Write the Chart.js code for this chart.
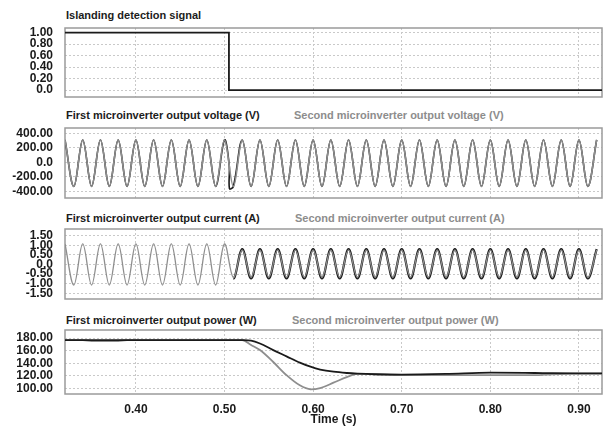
<!DOCTYPE html>
<html>
<head>
<meta charset="utf-8">
<script src="https://cdn.jsdelivr.net/npm/chart.js@4.4.0/dist/chart.umd.min.js"></script>
<style>
  html, body { margin: 0; padding: 0; background: #fff; }
  #wrap { position: relative; width: 612px; height: 428px; overflow: hidden;
          font-family: "Liberation Sans", Arial, sans-serif; }
  canvas { position: absolute; left: 0; }
  .ttl { position: absolute; font-size: 11px; font-weight: bold; color: #1c1c1c;
         white-space: nowrap; line-height: 11px; }
  .ttl.sec { color: #8d8d8d; }
</style>
</head>
<body>
<div id="wrap">
  <div class="ttl" style="left:66px;top:10px">Islanding detection signal</div>
  <div class="ttl" style="left:66px;top:110px">First microinverter output voltage (V)</div>
  <div class="ttl sec" style="left:294px;top:110px">Second microinverter output voltage (V)</div>
  <div class="ttl" style="left:66px;top:213px">First microinverter output current (A)</div>
  <div class="ttl sec" style="left:295px;top:213px">Second microinverter output current (A)</div>
  <div class="ttl" style="left:66px;top:315px">First microinverter output power (W)</div>
  <div class="ttl sec" style="left:292px;top:315px">Second microinverter output power (W)</div>

  <canvas id="sigChart" width="612" height="77" style="top:24px"></canvas>
  <canvas id="voltChart" width="612" height="78" style="top:124px"></canvas>
  <canvas id="curChart" width="612" height="78" style="top:225px"></canvas>
  <canvas id="powChart" width="612" height="102" style="top:326px"></canvas>
</div>
<script>
// islanding detection signal
const tSig = [0.32, 0.505, 0.505, 0.926];
const sig = [1, 1, 0, 0];

// sine waves sampled at their peaks and troughs (one every 10 ms)
const tWave = [0.32, 0.33, 0.34, 0.35, 0.36, 0.37, 0.38, 0.39, 0.40, 0.41,
  0.42, 0.43, 0.44, 0.45, 0.46, 0.47, 0.48, 0.49, 0.50, 0.51,
  0.52, 0.53, 0.54, 0.55, 0.56, 0.57, 0.58, 0.59, 0.60, 0.61,
  0.62, 0.63, 0.64, 0.65, 0.66, 0.67, 0.68, 0.69, 0.70, 0.71,
  0.72, 0.73, 0.74, 0.75, 0.76, 0.77, 0.78, 0.79, 0.80, 0.81,
  0.82, 0.83, 0.84, 0.85, 0.86, 0.87, 0.88, 0.89, 0.90, 0.91, 0.92];

const volt2 = [308, -332, 308, -332, 308, -332, 308, -332, 308, -332,
  308, -332, 308, -332, 308, -332, 308, -332, 308, -332,
  308, -332, 308, -332, 308, -332, 308, -332, 308, -332,
  308, -332, 308, -332, 308, -332, 308, -332, 308, -332,
  308, -332, 308, -332, 308, -332, 308, -332, 308, -332,
  308, -332, 308, -332, 308, -332, 308, -332, 308, -332, 308];

// first inverter voltage: same wave plus the switching spike
const tVolt1 = [0.32, 0.33, 0.34, 0.35, 0.36, 0.37, 0.38, 0.39, 0.40, 0.41,
  0.42, 0.43, 0.44, 0.45, 0.46, 0.47, 0.48, 0.49, 0.50, 0.5053, 0.5056, 0.51,
  0.52, 0.53, 0.54, 0.55, 0.56, 0.57, 0.58, 0.59, 0.60, 0.61,
  0.62, 0.63, 0.64, 0.65, 0.66, 0.67, 0.68, 0.69, 0.70, 0.71,
  0.72, 0.73, 0.74, 0.75, 0.76, 0.77, 0.78, 0.79, 0.80, 0.81,
  0.82, 0.83, 0.84, 0.85, 0.86, 0.87, 0.88, 0.89, 0.90, 0.91, 0.92];
const volt1 = [308, -332, 308, -332, 308, -332, 308, -332, 308, -332,
  308, -332, 308, -332, 308, -332, 308, -332, 308, -40, -362, -332,
  308, -332, 308, -332, 308, -332, 308, -332, 308, -332,
  308, -332, 308, -332, 308, -332, 308, -332, 308, -332,
  308, -332, 308, -332, 308, -332, 308, -332, 308, -332,
  308, -332, 308, -332, 308, -332, 308, -332, 308, -332, 308];

const cur1 = [1.07, -1.07, 1.07, -1.07, 1.07, -1.07, 1.07, -1.07, 1.07, -1.07,
  1.07, -1.07, 1.07, -1.07, 1.07, -1.07, 1.07, -1.07, 1.07, -0.73,
  0.80, -0.73, 0.80, -0.73, 0.80, -0.73, 0.80, -0.73, 0.80, -0.73,
  0.80, -0.73, 0.80, -0.73, 0.80, -0.73, 0.80, -0.73, 0.80, -0.73,
  0.80, -0.73, 0.80, -0.73, 0.80, -0.73, 0.80, -0.73, 0.80, -0.73,
  0.80, -0.73, 0.80, -0.73, 0.80, -0.73, 0.80, -0.73, 0.80, -0.73, 0.80];
const cur2 = [1.07, -1.07, 1.07, -1.07, 1.07, -1.07, 1.07, -1.07, 1.07, -1.07,
  1.07, -1.07, 1.07, -1.07, 1.07, -1.07, 1.07, -1.07, 1.07, -0.68,
  0.76, -0.68, 0.76, -0.68, 0.76, -0.68, 0.76, -0.68, 0.76, -0.68,
  0.76, -0.68, 0.76, -0.68, 0.76, -0.68, 0.76, -0.68, 0.76, -0.68,
  0.76, -0.68, 0.76, -0.68, 0.76, -0.68, 0.76, -0.68, 0.76, -0.68,
  0.76, -0.68, 0.76, -0.68, 0.76, -0.68, 0.76, -0.68, 0.76, -0.68, 0.76];

// output power
const tPow = [0.32, 0.34, 0.35, 0.365, 0.38, 0.39, 0.45, 0.50, 0.52, 0.53,
  0.54, 0.555, 0.57, 0.585, 0.597, 0.608, 0.623, 0.638, 0.65, 0.67,
  0.70, 0.75, 0.80, 0.85, 0.87, 0.90, 0.926];
const pow1 = [177, 177, 177, 177, 177, 177, 177, 177, 176.8, 176,
  171.5, 161, 151, 141, 134.5, 130, 126.5, 124.5, 123.5, 122.5,
  122, 123, 125, 124.5, 124.2, 124, 124];
const pow2 = [177, 177, 175.5, 175.3, 175.5, 177, 177, 177, 176.8, 169,
  161, 142, 121, 104.8, 98.5, 100.5, 109, 118, 123, 122.5,
  121, 121, 121, 121, 122.5, 123.5, 123.5];

// tick positions
const xTicks = [0.40, 0.50, 0.60, 0.70, 0.80, 0.90];
const sigTicks = [0, 0.2, 0.4, 0.6, 0.8, 1.0];
const voltTicks = [-400, -200, 0, 200, 400];
const curTicks = [-1.5, -1.0, -0.5, 0, 0.5, 1.0, 1.5];
const powTicks = [100, 120, 140, 160, 180];

const SWITCH_T = 0.505;
const GRAY = '#8e8e8e';
const DARK = '#1a1a1a';
const TICK_FONT = { family: '"Liberation Sans", Arial, sans-serif', size: 12, weight: 'bold' };

const frame = {
  id: 'frame',
  beforeDatasetsDraw(chart) {
    const { ctx, chartArea: a } = chart;
    ctx.save();
    ctx.strokeStyle = '#9b9b9b';
    ctx.lineWidth = 1.5;
    ctx.strokeRect(a.left, a.top, a.right - a.left, a.bottom - a.top);
    ctx.restore();
  },
};

const pts = (xs, ys) => xs.map((x, i) => ({ x, y: ys[i] }));

function fmt(v) {
  return Math.abs(v) < 1e-9 ? '0.0' : v.toFixed(2);
}

// no label overflow padding, so the plot boxes line up exactly
function noPad(s) {
  s.paddingTop = 0;
  s.paddingBottom = 0;
  s.paddingLeft = 0;
  s.paddingRight = 0;
}

function makeChart(id, datasets, y, bottom) {
  return new Chart(document.getElementById(id), {
    type: 'line',
    data: { datasets },
    plugins: [frame],
    options: {
      responsive: false,
      animation: false,
      devicePixelRatio: 1,
      layout: {
        autoPadding: false,
        padding: { left: 0, right: 10, top: 4, bottom: bottom ? 0 : 4 },
      },
      plugins: { legend: { display: false }, tooltip: { enabled: false } },
      elements: { point: { radius: 0 } },
      scales: {
        x: {
          type: 'linear',
          min: 0.32,
          max: 0.926,
          afterBuildTicks: (s) => { s.ticks = xTicks.map((v) => ({ value: v })); },
          afterFit: (s) => { noPad(s); s.height = bottom ? 34 : 0; },
          grid: { color: '#c9c9c9', drawTicks: false, lineWidth: 1 },
          border: { display: false, dash: [2, 2] },
          ticks: {
            display: !!bottom,
            padding: 8,
            color: DARK,
            font: TICK_FONT,
            callback: (v) => v.toFixed(2),
          },
          title: {
            display: !!bottom,
            text: 'Time (s)',
            color: DARK,
            font: TICK_FONT,
            padding: { top: 0, bottom: 1 },
          },
        },
        y: {
          min: y.min,
          max: y.max,
          afterBuildTicks: (s) => { s.ticks = y.ticks.map((v) => ({ value: v })); },
          afterFit: (s) => { noPad(s); s.width = 65; },
          grid: { color: '#c9c9c9', drawTicks: false, lineWidth: 1 },
          border: { display: false, dash: [2, 2] },
          ticks: {
            autoSkip: false,
            padding: 12,
            color: DARK,
            font: TICK_FONT,
            callback: fmt,
          },
        },
      },
    },
  });
}

// hide the first-inverter trace where it lies under the second one
const afterSwitch = (ctx) => (ctx.p0.parsed.x < SWITCH_T ? 'rgba(0,0,0,0)' : DARK);

makeChart('sigChart', [
  { data: pts(tSig, sig), borderColor: DARK, borderWidth: 1.8, tension: 0 },
], { min: -0.12, max: 1.08, ticks: sigTicks });

makeChart('voltChart', [
  { data: pts(tWave, volt2), borderColor: GRAY, borderWidth: 1.6, tension: 0.36 },
  { data: pts(tVolt1, volt1), borderColor: DARK, borderWidth: 1.6, tension: 0.36 },
], { min: -490, max: 472, ticks: voltTicks });

makeChart('curChart', [
  { data: pts(tWave, cur2), borderColor: GRAY, borderWidth: 1.3, tension: 0.36 },
  { data: pts(tWave, cur1), borderColor: DARK, borderWidth: 2.2, tension: 0.36,
    segment: { borderColor: afterSwitch } },
], { min: -1.8, max: 1.85, ticks: curTicks });

makeChart('powChart', [
  { data: pts(tPow, pow1), borderColor: DARK, borderWidth: 1.8, cubicInterpolationMode: 'monotone' },
  { data: pts(tPow, pow2), borderColor: GRAY, borderWidth: 1.8, cubicInterpolationMode: 'monotone' },
], { min: 91, max: 193, ticks: powTicks }, true);
</script>
</body>
</html>
